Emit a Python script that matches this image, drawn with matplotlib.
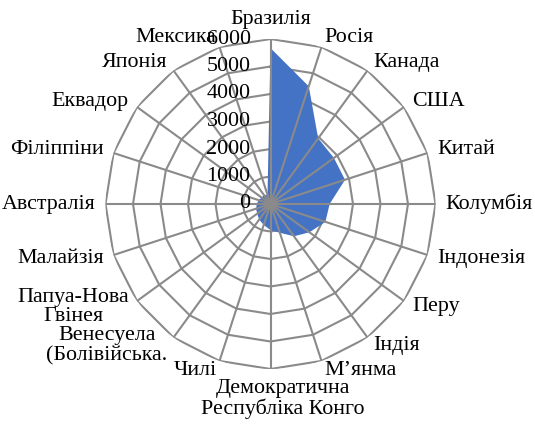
import numpy as np
import matplotlib
matplotlib.use('Agg')
import matplotlib.pyplot as plt

categories = ["Бразилія", "Росія", "Канада", "США", "Китай", "Колумбія",
              "Індонезія", "Перу", "Індія", "М’янма",
              "Демократична\nРеспубліка Конго", "Чилі",
              "Венесуела\n(Болівійська.", "Папуа-Нова\nГвінея", "Малайзія",
              "Австралія", "Філіппіни", "Еквадор", "Японія", "Мексика"]
values = [5670, 4500, 2950, 2850, 2850, 2150, 2100, 1750, 1450, 1100,
          950, 800, 700, 600, 550, 500, 450, 400, 400, 350]
rticks = [0, 1000, 2000, 3000, 4000, 5000, 6000]

plt.rcParams['font.family'] = ['Liberation Serif', 'DejaVu Serif']
FS = 15.8
gray = '#8a8a8a'
fill_col = '#4472C4'

W, H = 535, 425
fig = plt.figure(figsize=(W / 100, H / 100), dpi=100)
R = 165
cx, cy = 270.5, 204
ax = fig.add_axes([(cx - R) / W, (H - cy - R) / H, 2 * R / W, 2 * R / H],
                  projection='polar')
ax.set_theta_zero_location('N')
ax.set_theta_direction(-1)
ax.set_ylim(0, rticks[-1])
ax.grid(False)
ax.spines['polar'].set_visible(False)
ax.set_xticks([])
ax.set_yticks([])
ax.patch.set_alpha(0)

n = len(categories)
theta = np.arange(n) * 2 * np.pi / n
closed = np.append(theta, theta[0])

# rings (below fill)
for t in rticks[1:]:
    ax.plot(closed, [t] * (n + 1), color=gray, lw=1.5, zorder=1,
            solid_joinstyle='miter')
# data polygon
ax.fill(closed, np.append(values, values[0]), color=fill_col, lw=0, zorder=2)
# spokes (above fill)
for th in theta:
    ax.plot([th, th], [0, rticks[-1]], color=gray, lw=1.5, zorder=3)

# radial tick labels
for t in rticks:
    ax.annotate(str(t), xy=(0, t), xytext=(-20, 0), textcoords='offset pixels',
                ha='right', va='center', fontsize=FS, zorder=4,
                annotation_clip=False)

# category labels
pad = 10
for th, lab in zip(theta, categories):
    s, c = np.sin(th), np.cos(th)
    dx = pad * s
    if s > 0.1:
        ha = 'left'
    elif s < -0.1:
        ha = 'right'
    else:
        ha = 'center'
    if c > 0.99:
        va = 'bottom'
    elif c < -0.99:
        va = 'top'
        dx += 12
    else:
        va = 'center'
    ax.annotate(lab, xy=(th, rticks[-1]), xytext=(dx, pad * c),
                textcoords='offset pixels', ha=ha, va=va, fontsize=FS,
                multialignment='center', linespacing=1.05,
                annotation_clip=False)

fig.savefig('out.png', dpi=100)
